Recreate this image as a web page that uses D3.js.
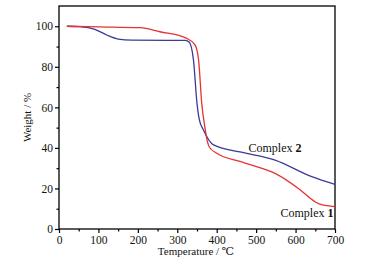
<!DOCTYPE html>
<html>
<head>
<meta charset="UTF-8">
<style>
  body { margin: 0; background: #fff; }
  svg text { font-family: "Liberation Serif", "DejaVu Serif", serif; fill: #111; }
</style>
</head>
<body>
<script src="https://d3js.org/d3.v7.min.js"></script>
<script>
// Complex 1 (red) — temperature (°C), weight (%)
const temp1 = [20, 100, 206, 256, 324, 345, 354, 362, 371, 376, 382, 400, 459, 489, 548, 607, 650, 664, 700];
const weight1 = [100, 99.7, 99.3, 97.3, 94, 90.8, 83.4, 62, 49, 43.5, 40.2, 37.4, 33.3, 31.5, 27.4, 20, 13.4, 12.1, 11];
// Complex 2 (blue)
const temp2 = [20, 53, 91, 121, 150, 185, 320, 330, 341, 350, 356, 366, 392, 459, 548, 641, 700];
const weight2 = [100, 99.8, 98.5, 95.7, 93.7, 93.2, 93, 92.2, 83.4, 62, 53.8, 49, 41.5, 38, 34, 25.8, 22];

const xTicks = [0, 100, 200, 300, 400, 500, 600, 700];
const yTicks = [0, 20, 40, 60, 80, 100];

const width = 370, height = 264;
const margin = {left: 59, right: 35, top: 6, bottom: 35};

const svg = d3.select("body").append("svg")
  .attr("width", width)
  .attr("height", height);

const x = d3.scaleLinear().domain([0, 700]).range([margin.left, width - margin.right]);
const y = d3.scaleLinear().domain([0, 110]).range([height - margin.bottom, margin.top]);

// 바깥 프레임
svg.append("rect")
  .attr("x", x(0)).attr("y", y(110))
  .attr("width", x(700) - x(0)).attr("height", y(0) - y(110))
  .attr("fill", "none").attr("stroke", "#000").attr("stroke-width", 1.3);

// minor ticks
svg.append("g")
  .attr("transform", `translate(0,${y(0)})`)
  .call(d3.axisBottom(x).tickValues(d3.range(50, 700, 100)).tickSize(2.5).tickFormat(""))
  .call(g => g.select(".domain").remove());
svg.append("g")
  .attr("transform", `translate(${x(0)},0)`)
  .call(d3.axisLeft(y).tickValues(d3.range(10, 110, 20)).tickSize(2.5).tickFormat(""))
  .call(g => g.select(".domain").remove());

// major ticks
const xAxis = svg.append("g")
  .attr("transform", `translate(0,${y(0)})`)
  .call(d3.axisBottom(x).tickValues(xTicks).tickSize(4).tickPadding(3))
  .call(g => g.select(".domain").remove());
xAxis.selectAll("text").attr("font-size", 11.5).attr("font-family", "Liberation Serif").attr("fill", "#111");

const yAxis = svg.append("g")
  .attr("transform", `translate(${x(0)},0)`)
  .call(d3.axisLeft(y).tickValues(yTicks).tickSize(4).tickPadding(2))
  .call(g => g.select(".domain").remove());
yAxis.selectAll("text").attr("font-size", 11.5).attr("font-family", "Liberation Serif").attr("fill", "#111");

svg.selectAll(".tick line").attr("stroke", "#000").attr("stroke-width", 1.2);

// 곡선
const line = d3.line()
  .x(d => x(d[0]))
  .y(d => y(d[1]))
  .curve(d3.curveMonotoneX);

svg.append("path")
  .datum(d3.zip(temp2, weight2))
  .attr("d", line)
  .attr("fill", "none")
  .attr("stroke", "#3a3a9c")
  .attr("stroke-width", 1.3);

svg.append("path")
  .datum(d3.zip(temp1, weight1))
  .attr("d", line)
  .attr("fill", "none")
  .attr("stroke", "#e63232")
  .attr("stroke-width", 1.3);

// 라벨
const lab2 = svg.append("text").attr("x", 275).attr("y", 152).attr("text-anchor", "middle").attr("font-size", 12);
lab2.append("tspan").text("Complex ");
lab2.append("tspan").attr("font-weight", "bold").text("2");

const lab1 = svg.append("text").attr("x", 307).attr("y", 217).attr("text-anchor", "middle").attr("font-size", 12);
lab1.append("tspan").text("Complex ");
lab1.append("tspan").attr("font-weight", "bold").text("1");

svg.append("text")
  .attr("x", 196).attr("y", 255)
  .attr("text-anchor", "middle")
  .attr("font-size", 11)
  .text("Temperature / ℃");

svg.append("text")
  .attr("transform", `translate(31,${y(55)}) rotate(-90)`)
  .attr("text-anchor", "middle")
  .attr("font-size", 11)
  .text("Weight / %");
</script>
</body>
</html>
